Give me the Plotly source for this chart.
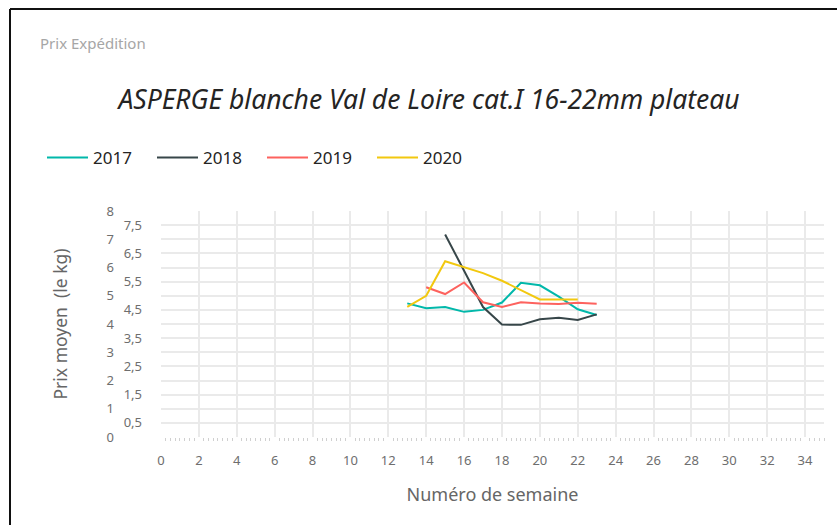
import plotly.graph_objects as go

# ---- data ----
weeks_2017 = [13, 14, 15, 16, 17, 18, 19, 20, 21, 22, 23]
prix_2017 = [4.73, 4.56, 4.60, 4.43, 4.50, 4.76, 5.46, 5.37, 4.97, 4.52, 4.32]

weeks_2018 = [15, 16, 17, 18, 19, 20, 21, 22, 23]
prix_2018 = [7.17, 5.90, 4.60, 3.98, 3.97, 4.17, 4.22, 4.14, 4.34]

weeks_2019 = [14, 15, 16, 17, 18, 19, 20, 21, 22, 23]
prix_2019 = [5.30, 5.06, 5.47, 4.77, 4.60, 4.77, 4.73, 4.71, 4.75, 4.72]

weeks_2020 = [13, 14, 15, 16, 17, 18, 19, 20, 21, 22]
prix_2020 = [4.61, 5.00, 6.22, 6.00, 5.80, 5.53, 5.20, 4.87, 4.87, 4.87]

series_names = ["2017", "2018", "2019", "2020"]
series_colors = ["#01B8AA", "#374649", "#FD625E", "#F2C80F"]

y_int_vals = [0, 1, 2, 3, 4, 5, 6, 7, 8]
y_int_text = ["0", "1", "2", "3", "4", "5", "6", "7", "8"]
y_half_vals = [0.5, 1.5, 2.5, 3.5, 4.5, 5.5, 6.5, 7.5]
y_half_text = ["0,5", "1,5", "2,5", "3,5", "4,5", "5,5", "6,5", "7,5"]

title_text = "ASPERGE blanche Val de Loire cat.I 16-22mm plateau"
header_text = "Prix Expédition"
x_title = "Numéro de semaine"
y_title = "Prix moyen\u00a0\u00a0(le kg)"

FONT = "Noto Sans"
W, H = 837, 525
ML, MR, MT, MB = 161, 13, 211, 88
PW, PH = W - ML - MR, H - MT - MB


def px_x(p):
    return (p - ML) / PW


def px_y(p):
    return (H - MB - p) / PH


fig = go.Figure()
for name, color, xs, ys in zip(
    series_names,
    series_colors,
    [weeks_2017, weeks_2018, weeks_2019, weeks_2020],
    [prix_2017, prix_2018, prix_2019, prix_2020],
):
    fig.add_trace(
        go.Scatter(x=xs, y=ys, name=name, mode="lines",
                   line=dict(color=color, width=2))
    )

# dummy trace to carry the half-value axis
fig.add_trace(go.Scatter(x=[None], y=[None], yaxis="y2", showlegend=False,
                         hoverinfo="skip"))

grid_color = "#EAEAEA"
tick_font = dict(family=FONT, size=13, color="#6E6E6E")

fig.update_layout(
    width=W, height=H,
    margin=dict(l=ML, r=MR, t=MT, b=MB, autoexpand=False),
    paper_bgcolor="white",
    plot_bgcolor="white",
    font=dict(family=FONT),
    title=dict(text=title_text, x=429 / W, xanchor="center",
               y=1 - 100 / H, yanchor="middle", xref="container", yref="container",
               font=dict(family=FONT, size=26.5, color="#252423", style="italic")),
    legend=dict(orientation="h", x=px_x(42), y=px_y(158), xanchor="left",
                yanchor="middle", font=dict(family=FONT, size=17, color="#252423"),
                itemwidth=41, entrywidth=54, entrywidthmode="pixels",
                bgcolor="rgba(0,0,0,0)"),
    xaxis=dict(range=[0, 35], tickmode="linear", tick0=0, dtick=2,
               showgrid=True, gridcolor=grid_color, gridwidth=2,
               zeroline=False, showline=False,
               tickfont=tick_font, ticks="", ticklabelstandoff=14,
               minor=dict(dtick=0.25, tick0=0, ticks="outside", ticklen=3,
                          tickcolor="#D0D0D0", showgrid=False),
               title=dict(text=x_title, font=dict(family=FONT, size=18, color="#666666"),
                          standoff=20)),
    yaxis=dict(range=[0, 8], tickmode="array", tickvals=y_int_vals, ticktext=y_int_text,
               showgrid=True, gridcolor=grid_color, gridwidth=2,
               zeroline=False, showline=False, ticks="",
               tickfont=tick_font, ticklabelstandoff=46,
               title=dict(text=y_title, font=dict(family=FONT, size=17.5, color="#666666"),
                          standoff=34)),
    yaxis2=dict(range=[0, 8], overlaying="y", side="left", tickmode="array",
                tickvals=y_half_vals, ticktext=y_half_text,
                showgrid=True, gridcolor=grid_color, gridwidth=2,
                zeroline=False, showline=False, ticks="",
                tickfont=tick_font, ticklabelstandoff=18),
    showlegend=True,
)

fig.add_annotation(text=header_text, x=px_x(38), y=px_y(43), xref="paper", yref="paper",
                   xanchor="left", yanchor="middle", showarrow=False,
                   font=dict(family=FONT, size=15, color="#A6A6A6"))

# outer frame (top and left edges)
fig.add_shape(type="line", xref="paper", yref="paper",
              x0=px_x(10), x1=px_x(W + 5), y0=px_y(9), y1=px_y(9),
              line=dict(color="#111111", width=2))
fig.add_shape(type="line", xref="paper", yref="paper",
              x0=px_x(10), x1=px_x(10), y0=px_y(9), y1=px_y(H + 5),
              line=dict(color="#111111", width=2))

fig.write_html("out.html", config={"displayModeBar": False},
               post_script="document.body.style.margin='0';")
